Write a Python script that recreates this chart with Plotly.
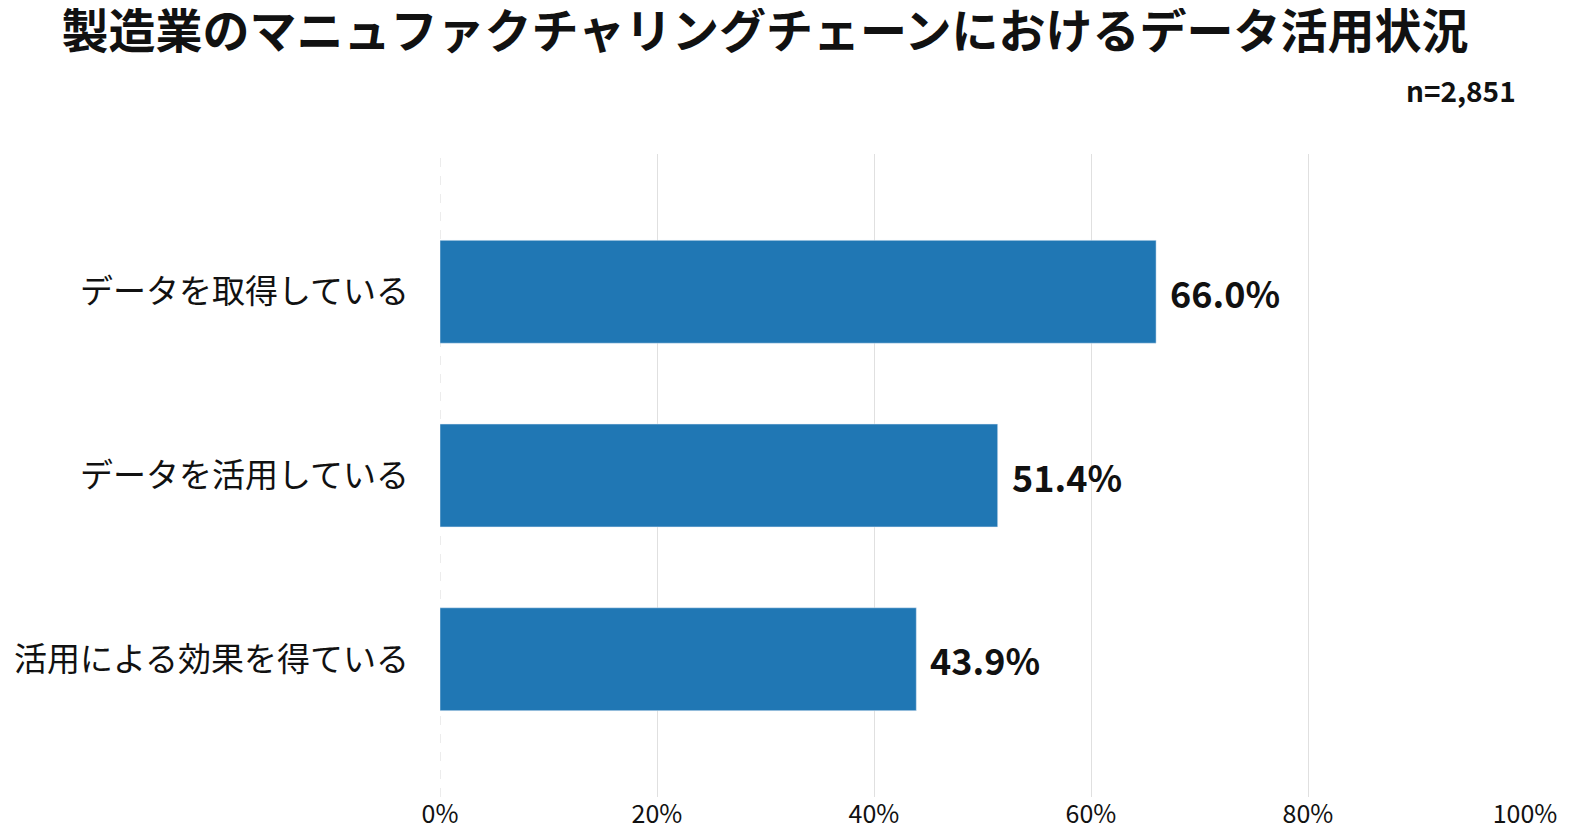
import plotly.graph_objects as go

# データ
categories = ["データを取得している", "データを活用している", "活用による効果を得ている"]
values = [66.0, 51.4, 43.9]
x_ticks = [0, 20, 40, 60, 80, 100]
x_tick_labels = ["0%", "20%", "40%", "60%", "80%", "100%"]
title_text = "製造業のマニュファクチャリングチェーンにおけるデータ活用状況"
sample_note = "n=2,851"

FONT = "Noto Sans CJK JP"
BAR_COLOR = "#2077b4"

# ページの body には 8px の余白があるので、その分だけ図を小さくする
W, H = 1563, 830
M_L, M_R, M_T, M_B = 432, 46, 146, 41
plot_w = W - M_L - M_R
plot_h = H - M_T - M_B

fig = go.Figure()
fig.add_trace(go.Bar(
    x=values,
    y=categories,
    orientation="h",
    marker_color=BAR_COLOR,
    width=0.56,
    hoverinfo="skip",
))

# 値ラベル
for cat, v in zip(categories, values):
    fig.add_annotation(
        x=v, y=cat, xref="x", yref="y",
        text=f"<b>{v:.1f}%</b>",
        showarrow=False, xanchor="left", xshift=12,
        font=dict(family=FONT, size=36, color="#111111"),
    )

# 0% の破線
fig.add_shape(
    type="line", xref="x", yref="paper",
    x0=0, x1=0, y0=0, y1=1,
    line=dict(color="#d9d9d9", width=1, dash="dash"),
    layer="below",
)

# n= の注記（右上）
fig.add_annotation(
    x=(1510 - M_L) / plot_w, y=(H - M_B - 82) / plot_h,
    xref="paper", yref="paper",
    text=f"<b>{sample_note}</b>", showarrow=False,
    xanchor="right", yanchor="middle",
    font=dict(family=FONT, size=28, color="#111111"),
)

fig.update_layout(
    width=W, height=H,
    paper_bgcolor="white", plot_bgcolor="white",
    margin=dict(l=M_L, r=M_R, t=M_T, b=M_B),
    showlegend=False,
    title=dict(
        text=f"<b>{title_text}</b>",
        x=757 / W, xanchor="center", xref="container",
        y=1 - 24 / H, yanchor="middle", yref="container",
        font=dict(family=FONT, size=47, color="#111111"),
    ),
    xaxis=dict(
        range=[0, 100],
        tickvals=x_ticks, ticktext=x_tick_labels,
        showgrid=True, gridcolor="#e0e0e0", gridwidth=1,
        zeroline=False, showline=False, automargin=False,
        tickfont=dict(family=FONT, size=25, color="#111111"),
    ),
    yaxis=dict(
        range=[2.75, -0.75],
        showgrid=False, zeroline=False, showline=False, automargin=False,
        ticklabelstandoff=30,
        tickfont=dict(family=FONT, size=33, color="#111111"),
    ),
)

fig.write_html("out.html")
